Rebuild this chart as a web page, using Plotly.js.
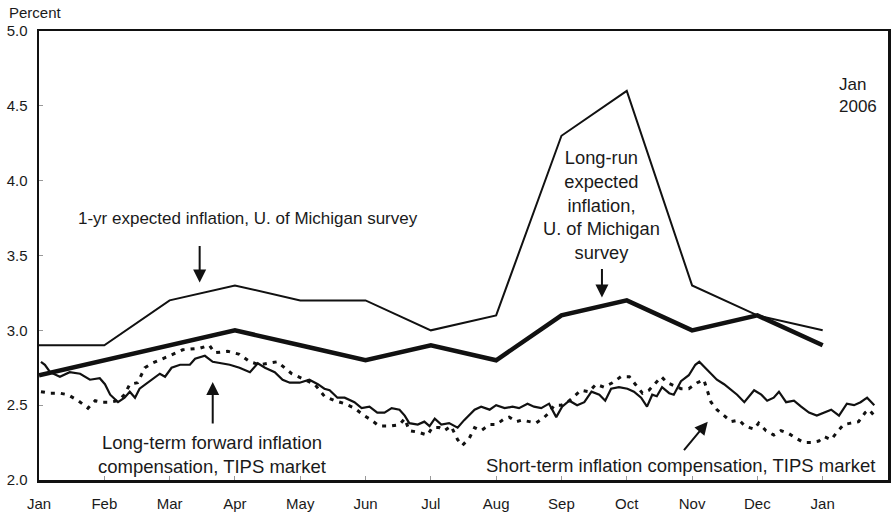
<!DOCTYPE html>
<html>
<head>
<meta charset="utf-8">
<script src="https://cdn.plot.ly/plotly-3.0.1.min.js"></script>
<style>html,body{margin:0;padding:0;background:#fff;}#chart{width:891px;height:517px;}</style>
</head>
<body>
<div id="chart"></div>
<script>
// Month positions (0 = Jan 2005 ... 12 = Jan 2006)
const monthIdx = [0,1,2,3,4,5,6,7,8,9,10,11,12];
const monthLabels = ["Jan","Feb","Mar","Apr","May","Jun","Jul","Aug","Sep","Oct","Nov","Dec","Jan"];

// 1-yr expected inflation, U. of Michigan survey
const oneYear = [2.9,2.9,3.2,3.3,3.2,3.2,3.0,3.1,4.3,4.6,3.3,3.1,3.0];
// Long-run expected inflation, U. of Michigan survey
const longRun = [2.7,2.8,2.9,3.0,2.9,2.8,2.9,2.8,3.1,3.2,3.0,3.1,2.9];

// Long-term forward inflation compensation, TIPS market (solid)
const fwdX = [0.03,0.09,0.17,0.32,0.47,0.63,0.78,0.93,1.01,1.09,1.21,1.31,1.39,1.47,1.54,1.67,1.77,1.85,1.93,2.03,2.16,2.31,2.39,2.54,2.66,2.77,2.92,3.07,3.23,3.35,3.46,3.61,3.73,3.84,3.99,4.14,4.27,4.37,4.45,4.57,4.68,4.83,4.94,5.06,5.18,5.29,5.40,5.52,5.60,5.67,5.80,5.90,5.98,6.06,6.16,6.28,6.41,6.51,6.62,6.67,6.77,6.90,7.00,7.13,7.25,7.35,7.48,7.58,7.69,7.81,7.92,8.01,8.12,8.24,8.35,8.46,8.58,8.67,8.76,8.88,9.01,9.11,9.22,9.31,9.39,9.46,9.54,9.65,9.72,9.83,9.95,10.05,10.11,10.18,10.26,10.38,10.49,10.60,10.69,10.80,10.87,10.95,11.06,11.15,11.25,11.33,11.44,11.56,11.67,11.79,11.91,12.02,12.13,12.25,12.37,12.48,12.58,12.68,12.79];
const fwdY = [2.79,2.77,2.72,2.69,2.72,2.71,2.67,2.68,2.64,2.57,2.52,2.55,2.59,2.55,2.61,2.65,2.68,2.71,2.69,2.75,2.77,2.77,2.81,2.83,2.79,2.78,2.77,2.75,2.72,2.78,2.75,2.72,2.67,2.65,2.65,2.67,2.64,2.61,2.60,2.55,2.55,2.52,2.48,2.49,2.45,2.45,2.48,2.47,2.43,2.38,2.37,2.39,2.36,2.41,2.37,2.38,2.35,2.40,2.45,2.47,2.49,2.47,2.50,2.48,2.49,2.48,2.51,2.49,2.48,2.51,2.42,2.49,2.53,2.50,2.52,2.59,2.57,2.53,2.61,2.62,2.61,2.59,2.55,2.49,2.57,2.56,2.62,2.58,2.57,2.66,2.70,2.77,2.79,2.76,2.72,2.67,2.64,2.60,2.57,2.52,2.56,2.60,2.57,2.53,2.55,2.59,2.52,2.53,2.49,2.45,2.43,2.45,2.47,2.43,2.51,2.50,2.52,2.55,2.50];

// Short-term inflation compensation, TIPS market (dotted)
const shortX = [0.03,0.17,0.32,0.44,0.60,0.75,0.86,0.96,1.09,1.21,1.31,1.39,1.51,1.62,1.73,1.85,2.00,2.20,2.46,2.61,2.69,2.89,3.07,3.23,3.38,3.65,3.76,3.87,4.07,4.22,4.37,4.53,4.68,4.83,4.98,5.09,5.21,5.37,5.52,5.60,5.67,5.80,5.95,6.02,6.13,6.21,6.31,6.41,6.48,6.59,6.67,6.77,6.90,7.00,7.13,7.20,7.31,7.39,7.51,7.61,7.74,7.81,7.89,8.00,8.12,8.20,8.30,8.42,8.53,8.65,8.78,8.91,9.04,9.13,9.24,9.34,9.45,9.53,9.62,9.83,9.95,10.08,10.18,10.23,10.29,10.38,10.49,10.60,10.72,10.81,10.95,11.02,11.13,11.25,11.36,11.48,11.59,11.71,11.82,11.94,12.02,12.13,12.22,12.32,12.43,12.55,12.65,12.71,12.79];
const shortY = [2.59,2.58,2.58,2.57,2.53,2.48,2.53,2.52,2.52,2.53,2.57,2.64,2.65,2.75,2.78,2.80,2.83,2.87,2.88,2.90,2.85,2.86,2.84,2.79,2.77,2.79,2.75,2.71,2.67,2.64,2.56,2.53,2.51,2.48,2.43,2.40,2.36,2.36,2.37,2.41,2.33,2.32,2.30,2.35,2.35,2.33,2.36,2.27,2.23,2.28,2.35,2.33,2.37,2.37,2.41,2.42,2.39,2.40,2.39,2.38,2.42,2.45,2.50,2.50,2.53,2.56,2.60,2.59,2.64,2.62,2.65,2.69,2.69,2.64,2.58,2.60,2.65,2.69,2.65,2.61,2.61,2.65,2.67,2.60,2.52,2.47,2.43,2.39,2.40,2.36,2.34,2.38,2.33,2.30,2.33,2.31,2.28,2.25,2.25,2.26,2.29,2.27,2.32,2.37,2.38,2.39,2.45,2.47,2.43];

const yTicks = [2.0,2.5,3.0,3.5,4.0,4.5,5.0];

const ink = '#111';
const traces = [
  {x: monthIdx, y: oneYear, mode:'lines', line:{color:ink, width:2}, hoverinfo:'skip'},
  {x: monthIdx, y: longRun, mode:'lines', line:{color:ink, width:4.5}, hoverinfo:'skip'},
  {x: fwdX, y: fwdY, mode:'lines', line:{color:ink, width:2.2}, hoverinfo:'skip'},
  {x: shortX, y: shortY, mode:'lines', line:{color:ink, width:3, dash:'4px,6px'}, hoverinfo:'skip'}
];

const fontFam = 'Liberation Sans, Arial, sans-serif';
const txt = '#1a1a1a';
const annotations = [
  {xref:'paper', yref:'paper', x:-0.038, y:1.042, xanchor:'left', yanchor:'middle', text:'Percent', showarrow:false, font:{family:fontFam, size:15, color:txt}},
  {x:12.22, y:4.57, xanchor:'left', yanchor:'middle', align:'left', text:'Jan<br>2006', showarrow:false, font:{family:fontFam, size:17, color:txt}},
  {x:3.20, y:3.75, xanchor:'center', yanchor:'middle', text:'1-yr expected inflation, U. of Michigan survey', showarrow:false, font:{family:fontFam, size:17, color:txt}},
  {x:8.61, y:3.84, xanchor:'center', yanchor:'middle', align:'center', text:'Long-run<br>expected<br>inflation,<br>U. of Michigan<br>survey', showarrow:false, font:{family:fontFam, size:18.3, color:txt}},
  {x:2.65, y:2.17, xanchor:'center', yanchor:'middle', align:'center', text:'Long-term forward inflation<br>compensation, TIPS market', showarrow:false, font:{family:fontFam, size:18.5, color:txt}},
  {x:9.83, y:2.094, xanchor:'center', yanchor:'middle', text:'Short-term inflation compensation, TIPS market', showarrow:false, font:{family:fontFam, size:18.5, color:txt}},
  // arrows
  {x:2.46, y:3.32, ax:0, ay:-38, showarrow:true, arrowhead:2, arrowsize:1.3, arrowwidth:2, arrowcolor:ink, text:''},
  {x:8.62, y:3.22, ax:0, ay:-30, showarrow:true, arrowhead:2, arrowsize:1.3, arrowwidth:2, arrowcolor:ink, text:''},
  {x:2.66, y:2.655, ax:0, ay:43, showarrow:true, arrowhead:2, arrowsize:1.3, arrowwidth:2, arrowcolor:ink, text:''},
  {x:10.24, y:2.39, ax:-25, ay:30, showarrow:true, arrowhead:2, arrowsize:1.3, arrowwidth:2, arrowcolor:ink, text:''}
];

const layout = {
  width: 891, height: 517,
  margin: {l:39, r:3, t:31, b:37},
  paper_bgcolor:'#fff', plot_bgcolor:'#fff',
  showlegend:false,
  font:{family:fontFam, size:15, color:txt},
  xaxis:{
    range:[0,13], tickvals: monthIdx, ticktext: monthLabels,
    showgrid:false, zeroline:false, showline:true, linecolor:ink, linewidth:2.5, mirror:true,
    ticks:'inside', ticklen:4, tickcolor:'#999', tickwidth:1,
    tickfont:{family:fontFam, size:15, color:txt}, ticklabelstandoff:8
  },
  yaxis:{
    range:[2,5], tickvals: yTicks, tickformat:'.1f',
    showgrid:false, zeroline:false, showline:true, linecolor:ink, linewidth:2.5, mirror:true,
    ticks:'inside', ticklen:4, tickcolor:'#999', tickwidth:1,
    tickfont:{family:fontFam, size:15, color:txt}, ticklabelstandoff:6
  },
  annotations: annotations
};

Plotly.newPlot('chart', traces, layout, {staticPlot:true, displayModeBar:false});
</script>
</body>
</html>
